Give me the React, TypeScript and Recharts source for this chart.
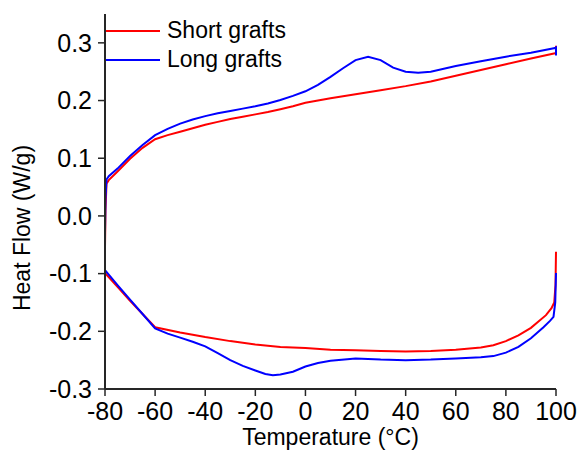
import { Legend, Line, LineChart, XAxis, YAxis } from "recharts";

const FONT = '"Liberation Sans", Arial, sans-serif';
const AXIS_COLOR = "#262626";

const seriesNames = ["Short grafts", "Long grafts"];

const xTicks = [-80, -60, -40, -20, 0, 20, 40, 60, 80, 100];
const xMinorTicks = [-70, -50, -30, -10, 10, 30, 50, 70, 90];
const yTicks = [-0.3, -0.2, -0.1, 0, 0.1, 0.2, 0.3];
const yMinorTicks = [-0.25, -0.15, -0.05, 0.05, 0.15, 0.25];

// Short grafts, heating branch
const shortHeatT = [
  -80, -79.8, -79.4, -78.5, -75, -70, -65, -60, -55, -50, -45, -40, -35, -30,
  -25, -20, -15, -10, -5, 0, 10, 20, 30, 40, 50, 60, 70, 80, 90, 99.6, 100, 100,
];
const shortHeatHF = [
  -0.055, 0.01, 0.056, 0.062, 0.077, 0.099, 0.118, 0.133, 0.14, 0.146, 0.152,
  0.158, 0.163, 0.168, 0.172, 0.176, 0.18, 0.185, 0.19, 0.196, 0.204, 0.211,
  0.218, 0.225, 0.233, 0.243, 0.253, 0.263, 0.273, 0.282, 0.283, 0.295,
];

// Short grafts, cooling branch
const shortCoolT = [
  100, 99.8, 99.3, 98.2, 96, 93, 90, 85, 80, 75, 70, 60, 50, 40, 30, 20, 10, 0,
  -10, -20, -30, -40, -50, -60, -65, -70, -75, -80,
];
const shortCoolHF = [
  -0.062, -0.12, -0.15, -0.16, -0.172, -0.183, -0.194, -0.207, -0.217, -0.224,
  -0.228, -0.232, -0.234, -0.235, -0.234, -0.233, -0.232, -0.229, -0.227,
  -0.223, -0.217, -0.21, -0.202, -0.193, -0.17, -0.147, -0.123, -0.099,
];

// Long grafts, heating branch
const longHeatT = [
  -80, -79.8, -79.4, -78.5, -75, -70, -65, -60, -55, -50, -45, -40, -35, -30,
  -25, -20, -15, -10, -5, 0, 5, 10, 15, 20, 25, 30, 35, 40, 45, 50, 60, 70, 80,
  90, 99.6, 100, 100,
];
const longHeatHF = [
  -0.03, 0.03, 0.063, 0.069, 0.082, 0.104, 0.123, 0.14, 0.151, 0.16, 0.167,
  0.173, 0.178, 0.182, 0.186, 0.19, 0.195, 0.201, 0.208, 0.216, 0.227, 0.241,
  0.256, 0.27, 0.276, 0.27, 0.257, 0.25, 0.248, 0.25, 0.26, 0.268, 0.276, 0.283,
  0.291, 0.292, 0.278,
];

// Long grafts, cooling branch
const longCoolT = [
  100, 99.7, 99, 97.6, 95, 90, 85, 80, 75, 70, 60, 50, 40, 30, 20, 10, 5, 0, -5,
  -10, -13, -16, -20, -25, -30, -35, -40, -45, -50, -55, -60, -65, -70, -75, -80,
];
const longCoolHF = [
  -0.099, -0.15, -0.175, -0.182, -0.193, -0.212, -0.227, -0.237, -0.243,
  -0.245, -0.247, -0.249, -0.25, -0.249, -0.247, -0.251, -0.255, -0.261, -0.27,
  -0.275, -0.276, -0.274, -0.268, -0.26, -0.25, -0.238, -0.226, -0.218, -0.211,
  -0.204, -0.195, -0.17, -0.145, -0.12, -0.094,
];

const toPoints = (t: number[], hf: number[]) =>
  t.map((x, i) => ({ t: x, hf: hf[i] as number | null }));

// heating then cooling, with a null point so the two branches stay apart
const loop = (heatT: number[], heatHF: number[], coolT: number[], coolHF: number[]) => [
  ...toPoints(heatT, heatHF),
  { t: 100, hf: null },
  ...toPoints(coolT, coolHF),
];

const shortData = loop(shortHeatT, shortHeatHF, shortCoolT, shortCoolHF);
const longData = loop(longHeatT, longHeatHF, longCoolT, longCoolHF);

const tickStyle = { fill: "#000", fontSize: 25, fontFamily: FONT };

type LegendEntry = { value?: string; color?: string };

const LegendBox = ({ payload }: { payload?: LegendEntry[] }) => {
  const items = [...(payload ?? [])].sort(
    (a, b) => seriesNames.indexOf(a.value ?? "") - seriesNames.indexOf(b.value ?? "")
  );
  return (
    <div style={{ fontFamily: FONT, fontSize: 23, color: "#000" }}>
      {items.map((entry) => (
        <div
          key={entry.value}
          style={{ display: "flex", alignItems: "center", height: 29 }}
        >
          <svg width={54} height={4} style={{ display: "block" }}>
            <line x1={0} y1={2} x2={54} y2={2} stroke={entry.color} strokeWidth={2} />
          </svg>
          <span style={{ marginLeft: 7, lineHeight: "29px", whiteSpace: "nowrap" }}>
            {entry.value}
          </span>
        </div>
      ))}
    </div>
  );
};

const YTitle = () => (
  <text
    transform="translate(30,228) rotate(-90)"
    textAnchor="middle"
    fontSize={23}
    fontFamily={FONT}
    fill="#000"
  >
    Heat Flow (W/g)
  </text>
);

export default function App() {
  return (
    <div
      style={{
        position: "absolute",
        left: 0,
        top: 0,
        width: 578,
        height: 450,
        background: "#fff",
      }}
    >
      <LineChart
        width={578}
        height={450}
        margin={{ top: 14, right: 22, bottom: 0, left: 0 }}
      >
        {/* minor ticks first so they sit right on the plot edges */}
        <XAxis
          xAxisId="minor"
          type="number"
          dataKey="t"
          domain={[-80, 100]}
          ticks={xMinorTicks}
          height={0}
          tick={false}
          axisLine={false}
          tickSize={4}
          tickLine={{ stroke: AXIS_COLOR, strokeWidth: 1.5 }}
        />
        <XAxis
          type="number"
          dataKey="t"
          domain={[-80, 100]}
          ticks={xTicks}
          height={61}
          tick={tickStyle}
          tickSize={7}
          tickMargin={6}
          axisLine={{ stroke: AXIS_COLOR, strokeWidth: 2 }}
          tickLine={{ stroke: AXIS_COLOR, strokeWidth: 1.5 }}
          label={{
            value: "Temperature (°C)",
            position: "insideBottom",
            offset: 5,
            fill: "#000",
            fontSize: 23,
            fontFamily: FONT,
          }}
        />
        <XAxis
          xAxisId="top"
          orientation="top"
          type="number"
          dataKey="t"
          domain={[-80, 100]}
          height={0}
          tick={false}
          tickLine={false}
          axisLine={{ stroke: AXIS_COLOR, strokeWidth: 2 }}
        />
        <YAxis
          yAxisId="minor"
          type="number"
          domain={[-0.3, 0.35]}
          allowDataOverflow
          ticks={yMinorTicks}
          width={0}
          tick={false}
          axisLine={false}
          tickSize={4}
          tickLine={{ stroke: AXIS_COLOR, strokeWidth: 1.5 }}
        />
        <YAxis
          type="number"
          domain={[-0.3, 0.35]}
          allowDataOverflow
          ticks={yTicks}
          width={105}
          tick={tickStyle}
          tickSize={7}
          tickMargin={6}
          tickFormatter={(v: number) => v.toFixed(1)}
          axisLine={{ stroke: AXIS_COLOR, strokeWidth: 2 }}
          tickLine={{ stroke: AXIS_COLOR, strokeWidth: 1.5 }}
          label={<YTitle />}
        />
        <YAxis
          yAxisId="right"
          orientation="right"
          type="number"
          domain={[-0.3, 0.35]}
          width={0}
          tick={false}
          tickLine={false}
          axisLine={{ stroke: AXIS_COLOR, strokeWidth: 2 }}
        />
        <Legend
          layout="vertical"
          align="center"
          verticalAlign="middle"
          content={<LegendBox />}
          wrapperStyle={{ left: 106, top: 16, width: "auto" }}
        />
        <Line
          name={seriesNames[0]}
          data={shortData}
          dataKey="hf"
          type="linear"
          stroke="#ff0000"
          strokeWidth={2}
          dot={false}
          activeDot={false}
          isAnimationActive={false}
        />
        <Line
          name={seriesNames[1]}
          data={longData}
          dataKey="hf"
          type="linear"
          stroke="#0000ff"
          strokeWidth={2}
          dot={false}
          activeDot={false}
          isAnimationActive={false}
        />
      </LineChart>
    </div>
  );
}
